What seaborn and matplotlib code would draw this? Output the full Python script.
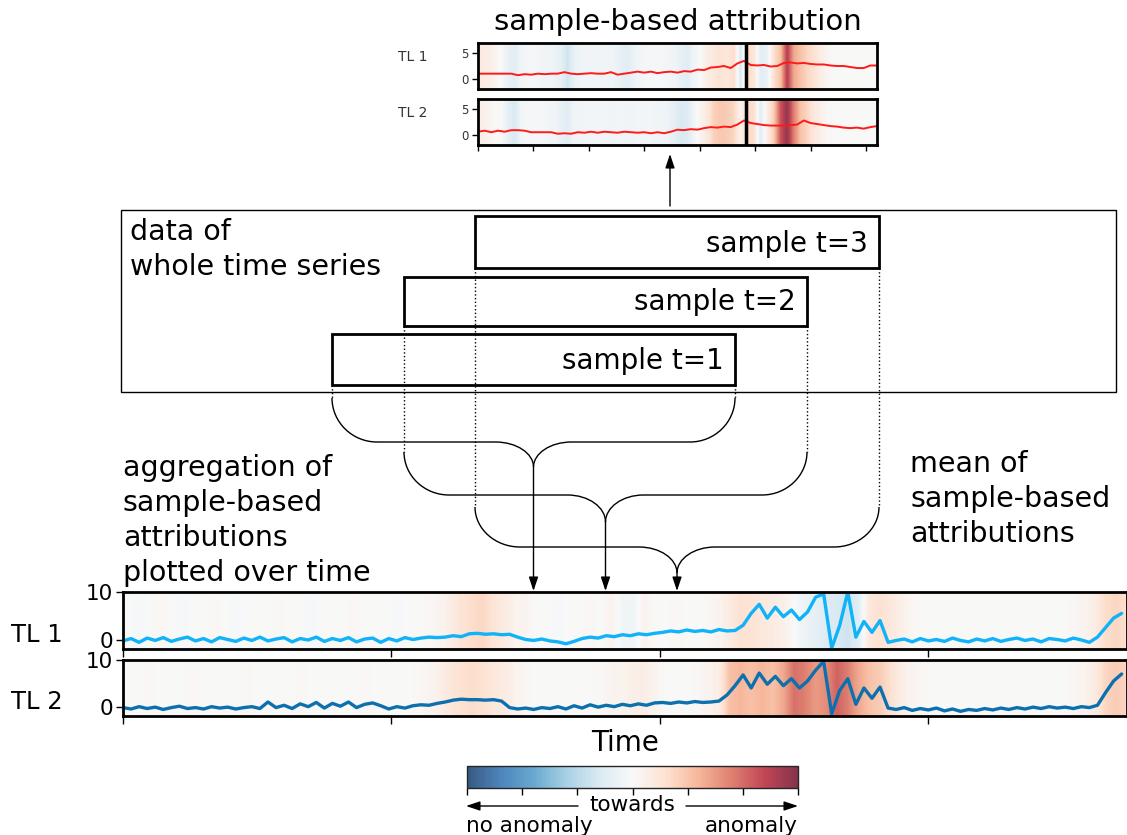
import numpy as np
import matplotlib
matplotlib.use("Agg")
import matplotlib.pyplot as plt
from matplotlib.colors import ListedColormap, Normalize
from matplotlib.cm import ScalarMappable
from matplotlib.path import Path
from matplotlib.patches import PathPatch, Rectangle
import seaborn as sns

W, H = 1127, 835

# ── data: sample-based attribution (one window, 0..360) ──
top_x = np.arange(0, 361, 6)
top_tl1 = [1.0, 1.0, 1.0, 1.0, 1.0, 1.0, 0.7, 0.9, 0.8, 1.0,
           0.9, 1.0, 1.0, 1.3, 1.0, 0.9, 1.0, 1.1, 1.0, 1.0,
           1.3, 0.8, 1.0, 1.2, 1.4, 1.2, 1.4, 1.1, 1.3, 1.4,
           1.2, 1.5, 1.4, 1.8, 1.7, 2.2, 2.3, 2.5, 2.1, 3.0,
           3.5, 2.7, 2.6, 2.7, 2.4, 2.5, 3.1, 3.2, 3.0, 3.1,
           2.9, 2.8, 2.8, 2.6, 2.5, 2.5, 2.3, 2.1, 2.1, 2.6,
           2.6]
top_tl2 = [0.6, 0.8, 0.5, 0.8, 0.6, 0.9, 0.9, 0.8, 0.5, 0.5,
           0.5, 0.5, 0.2, 0.3, 0.2, 0.5, 0.4, 0.6, 0.4, 0.6,
           0.5, 0.4, 0.6, 0.5, 0.4, 0.5, 0.3, 0.5, 0.3, 0.6,
           1.0, 0.9, 1.1, 1.0, 1.3, 1.5, 1.4, 1.6, 1.5, 2.0,
           2.8, 2.3, 2.1, 1.9, 1.8, 1.8, 1.8, 1.9, 2.0, 2.8,
           2.3, 2.1, 1.9, 1.7, 1.6, 1.4, 1.3, 1.4, 1.2, 1.5,
           1.7]
top_cell = 6
top_attr_tl1 = [0.12, 0.10, 0.05, 0.0, -0.10, -0.15, -0.05, -0.03, -0.03, -0.05,
                -0.05, -0.08, -0.12, -0.25, -0.10, -0.06, -0.05, -0.06, -0.05, -0.06,
                -0.08, -0.12, -0.15, -0.08, -0.04, -0.03, -0.03, -0.03, -0.04, -0.05,
                -0.12, -0.15, -0.05, 0.0, 0.10, 0.15, 0.18, 0.15, 0.22, -0.20,
                0.25, 0.15, -0.15, -0.10, 0.20, 0.35, 0.85, 0.45, 0.35, 0.25,
                0.20, 0.10, 0.04, 0.0, 0.0, 0.0, 0.0, 0.0, 0.0, 0.0]
top_attr_tl2 = [0.08, 0.06, 0.0, 0.0, -0.12, -0.20, -0.04, -0.03, -0.03, -0.03,
                -0.04, -0.05, -0.12, -0.15, -0.06, -0.05, -0.04, -0.04, -0.04, -0.05,
                -0.05, -0.04, -0.05, -0.05, -0.04, -0.04, -0.05, -0.06, -0.08, -0.12,
                -0.20, -0.18, -0.05, 0.05, 0.15, 0.28, 0.32, 0.30, 0.25, 0.05,
                0.25, 0.20, -0.15, 0.10, 0.30, 0.75, 0.95, 0.60, 0.35, 0.25,
                0.15, 0.08, 0.02, 0.0, 0.0, 0.0, 0.0, 0.0, 0.0, 0.0]
top_split = 242

# ── data: whole time series (0..1870) ──
bot_x = np.arange(0, 1861, 15)
bot_tl1 = [-0.3, 0.2, -0.6, 0.3, -0.2, 0.4, -0.4, 0.1, 0.5, -0.3,
           0.2, -0.5, 0.4, 0.0, -0.4, 0.3, -0.2, 0.5, -0.3, 0.1,
           0.4, -0.5, 0.2, -0.1, 0.5, -0.4, 0.2, -0.2, 0.4, -0.5,
           0.1, 0.3, -0.6, 0.2, -0.3, 0.4, 0.0, 0.3, 0.5,
           0.4, 0.5, 0.8, 0.6,
           1.2, 1.3, 1.1, 1.2, 1.0, 1.1,
           0.5, 0.0, -0.2, 0.1, -0.3, -0.5,
           -0.9, -0.4,
           0.2, 0.5, 0.3, 0.8, 0.6, 1.0, 0.8, 1.2, 1.0, 1.3,
           1.5, 1.8, 1.6, 2.0, 1.7, 1.9, 1.6, 2.1, 1.8, 1.9,
           3.0, 5.5, 7.4, 4.5, 6.8, 4.8, 6.2, 4.2, 5.8, 8.9,
           9.6, -1.8, 3.0, 10.0, 0.5, 3.8, 1.5, 4.0, -0.6,
           -0.2, 0.1, -0.5, 0.2, -0.3, 0.0, -0.4, 0.3, -0.2, -0.5,
           0.1, -0.3, 0.2, -0.4, 0.0, 0.3, -0.2, 0.1, -0.5, 0.2,
           0.0, -0.3, 0.3, -0.1, -0.6,
           0.5, 2.5, 4.5, 5.5]
bot_tl2 = [-0.2, -0.5, 0.0, -0.4, -0.1, -0.6, -0.2, 0.1, -0.4, -0.2,
           -0.5, 0.0, -0.3, -0.1, -0.5, -0.2, 0.0, -0.4,
           1.0,
           -0.2, 0.3, -0.4, 0.6, 0.0, 0.9, -0.3, 0.7, 0.1, 1.0,
           -0.2, 0.5, 0.8, 0.2,
           -0.5, 0.0, -0.3, 0.2, 0.4, 0.3, 0.7, 1.0,
           1.4, 1.6, 1.5, 1.5, 1.4, 1.5, 1.2,
           -0.2, -0.5, -0.3, -0.6, -0.2, -0.4, 0.0, -0.5,
           0.2, -0.3, 0.4, -0.1, 0.3, 0.0, 0.5, 0.2, 0.6, 0.3, 0.8,
           0.9, 0.7, 1.0, 0.8, 1.1, 0.9, 1.0, 1.2,
           2.5, 4.5, 6.8, 4.0, 7.2, 4.8, 6.5, 4.5, 6.0, 4.0,
           5.5, 7.8, 9.7, -1.5, 3.5, 6.0, 0.5, 4.0, 1.8, 4.2, -0.3,
           -0.6, -0.2, -0.8, -0.4, -0.7, -0.3, -0.9, -0.5, -1.0, -0.6,
           -0.8, -0.4, -0.7, -0.3, -0.6, -0.2, -0.5, -0.1, -0.4, 0.0,
           -0.3, -0.1, -0.4, 0.0, -0.2,
           0.3, 3.0, 5.5, 7.0]
bot_cell = 20
bot_attr_tl1 = [0.0, -0.02, 0.0, 0.02, 0.0, -0.02, 0.0, 0.0, 0.02, 0.0,
                -0.02, 0.0, 0.0, 0.0, 0.02, 0.0, 0.0, -0.02, 0.0, 0.0,
                0.0, 0.02, 0.0, 0.0, 0.0, -0.02, 0.0, 0.0, 0.02, 0.04,
                0.10, 0.18, 0.22, 0.25, 0.18, 0.12, 0.06, 0.04,
                0.0, 0.0, -0.02, 0.0, 0.0, 0.02, 0.0,
                0.06, -0.05, -0.06, 0.05,
                0.0, 0.0, 0.02, 0.0, 0.0, 0.02, 0.05,
                0.12, 0.20, 0.18, 0.15, 0.12, 0.08, 0.0,
                -0.08, -0.12, -0.18, -0.20, -0.25, -0.15,
                0.15, 0.20, 0.15, 0.08,
                0.02, 0.0, 0.0, 0.0, 0.0, 0.0, 0.0, 0.0, 0.0, 0.0,
                0.0, 0.0, 0.0, 0.0, 0.0, 0.02, 0.05,
                0.10, 0.22, 0.25, 0.20]
bot_attr_tl2 = [0.0, 0.0, 0.02, 0.0, 0.0, 0.0, 0.02, 0.0, 0.0, 0.0,
                0.0, 0.02, 0.0, 0.0, 0.0, 0.0, 0.02, 0.0, 0.0, 0.0,
                0.0, 0.0, 0.02, 0.0, 0.0, 0.0, 0.0, 0.02, 0.04,
                0.08, 0.15, 0.20, 0.22, 0.20, 0.15, 0.12, 0.06,
                0.02, 0.0, 0.0, 0.0, 0.0, 0.0, 0.0, 0.02, 0.04, 0.06,
                0.08, 0.10, 0.05,
                0.0, 0.0, 0.0, 0.02, 0.05,
                0.10, 0.35, 0.40, 0.35, 0.40, 0.35, 0.45, 0.65, 0.60, 0.50,
                0.55, 0.70, 0.60, 0.45, 0.35, 0.30, 0.20, 0.10,
                0.04, 0.02, 0.0, 0.0, 0.0, 0.0, 0.0, 0.0, 0.0, 0.0,
                0.0, 0.0, 0.0, 0.0, 0.0, 0.02, 0.05,
                0.12, 0.25, 0.30, 0.25]

# sample windows in the sketch (pixel coords: left, top, right, bottom)
sample_labels = ["sample t=1", "sample t=2", "sample t=3"]
sample_boxes = [(332, 334, 735, 385), (404, 277, 807, 326), (475, 216, 879, 268)]
brace_levels = [(398, 442, 467), (452, 495, 522), (507, 547, 573)]

sns.set_style("ticks")
plt.rcParams["font.family"] = ["DejaVu Sans"]
plt.rcParams["text.color"] = "black"
plt.rcParams["axes.labelcolor"] = "black"
plt.rcParams["xtick.color"] = "black"
plt.rcParams["ytick.color"] = "black"

# RdBu_r, washed a little towards white
rgba = plt.get_cmap("RdBu_r")(np.linspace(0, 1, 256))
rgba[:, :3] = 0.8 * rgba[:, :3] + 0.2
cmap = ListedColormap(rgba)

fig = plt.figure(figsize=(W / 100, H / 100), dpi=100)


def px_ax(x0, y0, x1, y1):
    return fig.add_axes([x0 / W, 1 - y1 / H, (x1 - x0) / W, (y1 - y0) / H])


def strip(ax, x, y, attr, cell, xmax, ylim, color, lw):
    ax.imshow(np.array([attr]), cmap=cmap, vmin=-1, vmax=1, aspect="auto",
              extent=(0, cell * len(attr), ylim[0], ylim[1]), interpolation="bilinear")
    sns.lineplot(x=x, y=y, ax=ax, color=color, lw=lw)
    ax.set_xlim(0, xmax)
    ax.set_ylim(*ylim)
    ax.set_xlabel("")
    ax.set_ylabel("")
    for s in ax.spines.values():
        s.set_visible(True)
        s.set_linewidth(2)
        s.set_color("black")


# --- top: one sample ---
top_axes = [px_ax(478, 43, 877, 89), px_ax(478, 99, 877, 145)]
for i, (ax, line, attr) in enumerate(zip(top_axes, [top_tl1, top_tl2], [top_attr_tl1, top_attr_tl2])):
    strip(ax, top_x, line, attr, top_cell, 360, (-2, 7), "#ff1a1a", 1.4)
    ax.axvline(top_split, color="black", lw=2.5)
    ax.set_yticks([0, 5])
    ax.tick_params(axis="y", length=4, width=1, labelsize=8.5, labelcolor="#333333", pad=3)
    if i == 0:
        ax.set_xticks([])
    else:
        ax.set_xticks(range(0, 351, 50))
        ax.set_xticklabels([])
        ax.tick_params(axis="x", length=4, width=1)
    ax.text(-0.2, 0.7, f"TL {i + 1}", transform=ax.transAxes, fontsize=10,
            color="#333333", va="center", ha="left")

# --- bottom: whole series ---
bot_axes = [px_ax(123, 592, 1127, 649), px_ax(123, 660, 1127, 716)]
for i, (ax, line, attr, col) in enumerate(zip(bot_axes, [bot_tl1, bot_tl2],
                                              [bot_attr_tl1, bot_attr_tl2], ["#10b2f8", "#0c70ae"])):
    strip(ax, bot_x, line, attr, bot_cell, 1870, (-2, 10), col, 2.4)
    ax.set_yticks([0, 10])
    ax.set_xticks([0, 500, 1000, 1500])
    ax.set_xticklabels([])
    ax.tick_params(axis="y", length=5, width=1, labelsize=15.5, pad=2)
    ax.tick_params(axis="x", length=6, width=1)
    ax.text(-0.112, 0.25, f"TL {i + 1}", transform=ax.transAxes, fontsize=17.5,
            va="center", ha="left")
bot_axes[1].set_xlabel("Time", fontsize=20, labelpad=0)

# --- colorbar ---
cax = px_ax(467, 766, 798, 788)
cb = fig.colorbar(ScalarMappable(norm=Normalize(-1, 1), cmap=cmap), cax=cax, orientation="horizontal")
cb.set_ticks(np.linspace(-1, 1, 7))
cb.set_ticklabels([])
cb.outline.set_linewidth(1)
cax.tick_params(length=5, width=1)

# --- sketch overlay (pixel coordinates) ---
ov = fig.add_axes([0, 0, 1, 1], zorder=5)
ov.set_xlim(0, W)
ov.set_ylim(H, 0)
ov.axis("off")
ov.patch.set_visible(False)

ov.text(678, 22, "sample-based attribution", fontsize=21, ha="center", va="center")
ov.annotate("", xy=(670, 154), xytext=(670, 206),
            arrowprops=dict(arrowstyle="-|>,head_length=0.6,head_width=0.2", color="black",
                            lw=1, shrinkA=0, shrinkB=0, mutation_scale=14))

ov.add_patch(Rectangle((121, 210), 1116 - 121, 392 - 210, fill=False, lw=1, ec="black"))
ov.text(130, 240, "data of", fontsize=20.5, ha="left", va="baseline")
ov.text(130, 275, "whole time series", fontsize=20.5, ha="left", va="baseline")

k = 0.55
for label, (x0, y0, x1, y1), (ytop, yh, ytip) in zip(sample_labels, sample_boxes, brace_levels):
    ov.add_patch(Rectangle((x0, y0), x1 - x0, y1 - y0, fill=False, lw=2, ec="black"))
    ov.text(x1 - 11, y1 - 16, label, fontsize=20, ha="right", va="baseline")
    ov.plot([x0, x0], [y1, ytop], ls=":", color="black", lw=1)
    ov.plot([x1, x1], [y1, ytop], ls=":", color="black", lw=1)
    xm = (x0 + x1) / 2
    r, r2 = 45, 38
    for sgn, xe in [(1, x0), (-1, x1)]:
        verts = [(xe, ytop), (xe, ytop + k * (yh - ytop)), (xe + sgn * r * (1 - k), yh), (xe + sgn * r, yh),
                 (xm - sgn * r2, yh),
                 (xm - sgn * r2 * (1 - k), yh), (xm, ytip - k * (ytip - yh)), (xm, ytip)]
        codes = [Path.MOVETO, Path.CURVE4, Path.CURVE4, Path.CURVE4, Path.LINETO,
                 Path.CURVE4, Path.CURVE4, Path.CURVE4]
        ov.add_patch(PathPatch(Path(verts, codes), fill=False, lw=1, ec="black"))
    ov.annotate("", xy=(xm, 591), xytext=(xm, ytip),
                arrowprops=dict(arrowstyle="-|>,head_length=0.6,head_width=0.2", color="black",
                                lw=1, shrinkA=0, shrinkB=0, mutation_scale=14))

for j, s in enumerate(["aggregation of", "sample-based", "attributions", "plotted over time"]):
    ov.text(123, 476 + 35 * j, s, fontsize=20.5, ha="left", va="baseline")
for j, s in enumerate(["mean of", "sample-based", "attributions"]):
    ov.text(910, 472 + 35 * j, s, fontsize=20.5, ha="left", va="baseline")

# colorbar caption
ov.text(632, 805, "towards", fontsize=15.5, ha="center", va="center")
ov.annotate("", xy=(466, 806), xytext=(578, 806),
            arrowprops=dict(arrowstyle="-|>,head_length=0.6,head_width=0.2", color="black",
                            lw=1, shrinkA=0, shrinkB=0, mutation_scale=14))
ov.annotate("", xy=(798, 806), xytext=(686, 806),
            arrowprops=dict(arrowstyle="-|>,head_length=0.6,head_width=0.2", color="black",
                            lw=1, shrinkA=0, shrinkB=0, mutation_scale=14))
ov.text(466, 832, "no anomaly", fontsize=15.5, ha="left", va="baseline")
ov.text(798, 832, "anomaly", fontsize=15.5, ha="right", va="baseline")

fig.savefig("out.png", dpi=100)
